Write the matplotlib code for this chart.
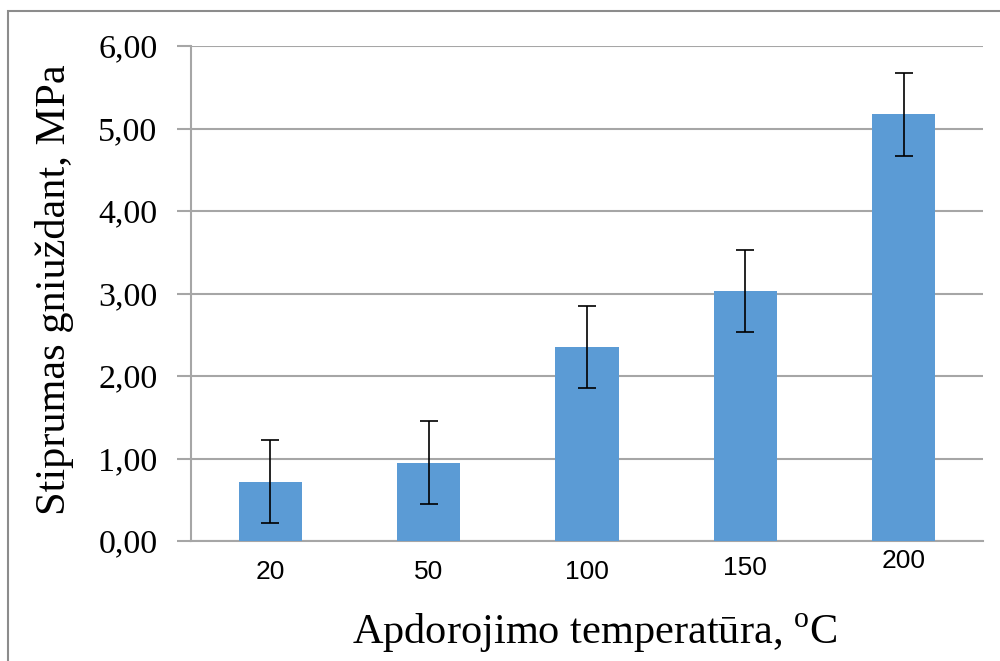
import matplotlib
matplotlib.use('Agg')
import matplotlib.pyplot as plt
import matplotlib.transforms as mtransforms
from matplotlib.patches import Rectangle
import numpy as np

# Data
temps = ['20', '50', '100', '150', '200']
strength = [0.72, 0.95, 2.35, 3.03, 5.17]
errors = [0.5, 0.5, 0.5, 0.5, 0.5]
yticks = [0, 1, 2, 3, 4, 5, 6]
label_shift = [0, 0, 0, 4, 11]  # px upward shift of x tick labels, as in the picture

plt.rcParams['mathtext.fontset'] = 'custom'
plt.rcParams['mathtext.rm'] = 'Liberation Serif'

fig = plt.figure(figsize=(10, 6.61), dpi=100)
ax = fig.add_axes([0.191, 1 - 541 / 661, 0.792, (541 - 46) / 661])

grid_col = '#a6a6a6'
x = np.arange(len(temps))
ax.bar(x, strength, width=0.4, color='#5b9bd5', zorder=3)
ax.errorbar(x, strength, yerr=errors, fmt='none', ecolor='black',
            elinewidth=1.2, capsize=6.5, capthick=1.2, zorder=4)

ax.set_xlim(-0.5, len(temps) - 0.5)
ax.set_ylim(0, 6)
ax.set_yticks(yticks)
ax.set_yticklabels([('%.2f' % v).replace('.', ',') for v in yticks],
                   fontfamily='Liberation Serif', fontsize=24.5)
ax.yaxis.grid(True, color=grid_col, linewidth=1.5, zorder=0)

# x tick labels, drawn as text so each can sit at its own height
ax.set_xticks(x)
ax.set_xticklabels([])
base = mtransforms.blended_transform_factory(ax.transData, ax.transAxes)
for xi, lbl, s in zip(x, temps, label_shift):
    off = mtransforms.ScaledTranslation(0, (s - 31) / 100, fig.dpi_scale_trans)
    ax.text(xi, 0, lbl, transform=base + off, ha='center', va='center',
            fontfamily='Liberation Sans', fontsize=19)
ax.tick_params(axis='x', length=0)
ax.tick_params(axis='y', length=10, width=1.5, color=grid_col, pad=14)

for side in ['top', 'right']:
    ax.spines[side].set_visible(False)
for side in ['left', 'bottom']:
    ax.spines[side].set_color(grid_col)
    ax.spines[side].set_linewidth(1.5)

fig.text(0.055, 1 - 290 / 661, 'Stiprumas gniuždant, MPa', rotation=90,
         ha='center', va='center', fontfamily='Liberation Serif', fontsize=30.5)
fig.text(0.595, 1 - 633 / 661, 'Apdorojimo temperatūra, $^{\\mathrm{o}}$C',
         ha='center', va='center', fontfamily='Liberation Serif', fontsize=30.5)

# Chart-area border
fig.patches.append(Rectangle((8 / 1000, -0.1), 1.2, 1 - 11 / 661 + 0.1,
                             transform=fig.transFigure, fill=False,
                             edgecolor='#8c8c8c', linewidth=1.5))

fig.savefig('out.png', dpi=100)
